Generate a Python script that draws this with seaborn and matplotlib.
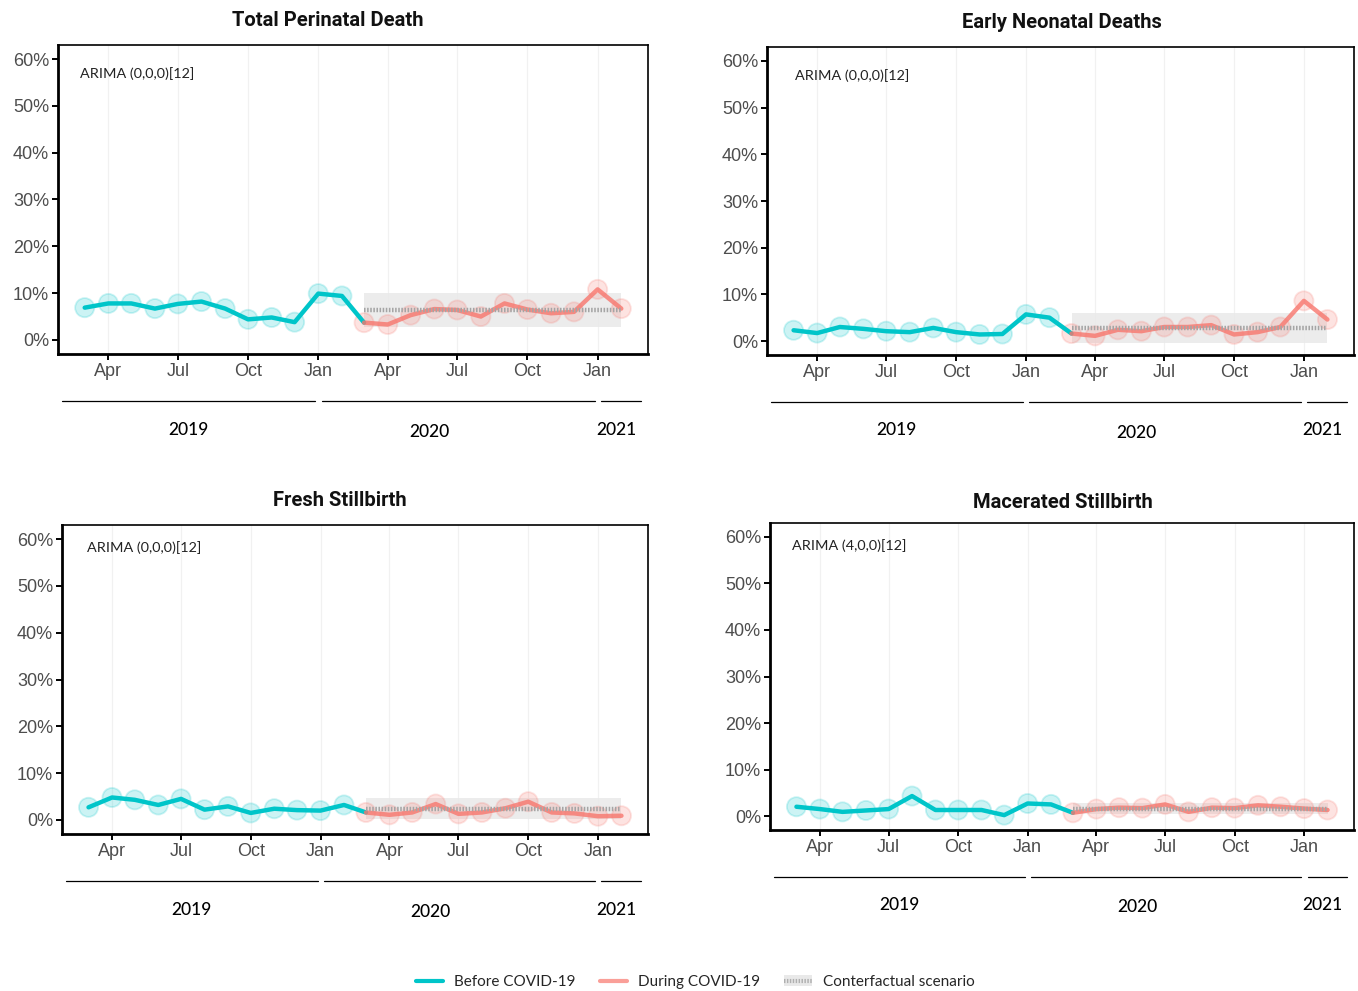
import numpy as np
import pandas as pd
import matplotlib
matplotlib.use("Agg")
import matplotlib.pyplot as plt
import matplotlib.dates as mdates
import matplotlib.transforms as mtransforms
from matplotlib.lines import Line2D
from matplotlib.patches import Patch
from matplotlib.legend_handler import HandlerTuple
import seaborn as sns

# ---------------- data ----------------
months = pd.date_range("2019-03-01", "2021-02-01", freq="MS")
n_before = 12  # Mar 2019 - Feb 2020 before COVID-19, Mar 2020 onward during

panel_titles = ["Total Perinatal Death", "Early Neonatal Deaths",
                "Fresh Stillbirth", "Macerated Stillbirth"]
arima_labels = ["ARIMA (0,0,0)[12]", "ARIMA (0,0,0)[12]",
                "ARIMA (0,0,0)[12]", "ARIMA (4,0,0)[12]"]

total_perinatal = [6.9, 7.8, 7.8, 6.7, 7.7, 8.2, 6.7, 4.4, 4.8, 3.8, 9.9, 9.4,
                   3.7, 3.3, 5.3, 6.6, 6.4, 5.0, 7.8, 6.5, 5.7, 6.0, 10.8, 6.7]
early_neonatal = [2.3, 1.7, 3.0, 2.6, 2.1, 1.9, 2.8, 1.9, 1.4, 1.5, 5.7, 5.0,
                  1.6, 1.1, 2.4, 2.1, 3.0, 3.0, 3.4, 1.4, 1.9, 3.0, 8.6, 4.6]
fresh_stillbirth = [2.7, 4.8, 4.3, 3.2, 4.5, 2.2, 2.9, 1.5, 2.4, 2.1, 2.0, 3.2,
                    1.6, 1.1, 1.6, 3.4, 1.3, 1.6, 2.5, 3.9, 1.6, 1.4, 0.8, 0.9]
macerated_stillbirth = [2.0, 1.5, 0.9, 1.2, 1.5, 4.3, 1.3, 1.3, 1.3, 0.2, 2.7, 2.5,
                        0.7, 1.5, 1.8, 1.7, 2.5, 0.9, 1.8, 1.7, 2.3, 2.0, 1.6, 1.3]
series = [total_perinatal, early_neonatal, fresh_stillbirth, macerated_stillbirth]

# counterfactual forecast (mean and interval) over the COVID-19 period
cf_mean = [6.5, 2.8, 2.3, 1.6]
cf_low = [2.8, -0.4, 0.2, 0.4]
cf_high = [10.1, 5.9, 4.6, 2.9]

y_ticks = [0, 10, 20, 30, 40, 50, 60]
year_labels = ["2019", "2020", "2021"]
year_label_dates = ["2019-07-15", "2020-05-25", "2021-01-25"]
legend_labels = ["Before COVID-19", "During COVID-19", "Conterfactual scenario"]

# ---------------- style ----------------
CYAN = "#00C5C9"
RED = "#F8766D"
sns.set_theme(style="white")
plt.rcParams["font.family"] = ["Liberation Sans", "DejaVu Sans"]

fig = plt.figure(figsize=(13.58, 9.91), dpi=100)
W, H = 1358, 991

# axes boxes in pixels: left, top, right, bottom
boxes = [(58, 45, 648, 354), (767, 47, 1354, 355),
         (62, 525, 648, 834), (770, 523, 1354, 830)]
title_pos = [(328, 20), (1062, 22), (340, 500), (1063, 502)]
arima_pos = [(0.037, 0.909), (0.048, 0.909), (0.043, 0.926), (0.038, 0.928)]

x0 = months[0] - pd.Timedelta(days=35)
x1 = months[-1] + pd.Timedelta(days=35)

for i in range(4):
    l, t, r, b = boxes[i]
    ax = fig.add_axes([l / W, 1 - b / H, (r - l) / W, (b - t) / H])
    vals = series[i]

    df = pd.DataFrame({"date": months, "value": vals,
                       "period": ["Before"] * n_before + ["During"] * (len(months) - n_before)})
    before_line = df.iloc[:n_before + 1]
    during_line = df.iloc[n_before:]
    during = df.iloc[n_before:]

    # counterfactual band and central forecast
    ax.fill_between(during["date"], cf_low[i], cf_high[i], color="#E9E9E9",
                    alpha=0.85, linewidth=0, zorder=1)

    # monthly observations
    sns.scatterplot(data=df, x="date", y="value", hue="period",
                    palette={"Before": CYAN, "During": RED}, s=190, alpha=0.2,
                    edgecolor=None, linewidth=1.3, legend=False, ax=ax, zorder=2)
    for coll in ax.collections[1:]:
        fc = coll.get_facecolors()
        coll.set_edgecolors(fc)

    sns.lineplot(data=before_line, x="date", y="value", color=CYAN,
                 linewidth=3.2, ax=ax, zorder=3)
    sns.lineplot(data=during_line, x="date", y="value", color=RED,
                 linewidth=3.2, alpha=0.8, ax=ax, zorder=3)

    ax.plot(during["date"], [cf_mean[i]] * len(during), color="#A5A5A5",
            linewidth=3.2, linestyle=(0, (0.35, 0.35)), zorder=4)

    ax.set_xlim(x0, x1)
    ax.set_ylim(-3, 63)
    ax.set_yticks(y_ticks)
    ax.set_yticklabels([f"{v}%" for v in y_ticks])
    ax.xaxis.set_major_locator(mdates.MonthLocator(bymonth=[1, 4, 7, 10]))
    ax.xaxis.set_major_formatter(mdates.DateFormatter("%b"))
    ax.set_xlabel("")
    ax.set_ylabel("")
    ax.grid(axis="x", color="#F1F1F1", linewidth=0.9)
    ax.grid(axis="y", visible=False)
    ax.set_axisbelow(True)

    for side in ["left", "bottom"]:
        ax.spines[side].set_linewidth(2.0)
        ax.spines[side].set_color("black")
    for side in ["top", "right"]:
        ax.spines[side].set_linewidth(1.2)
        ax.spines[side].set_color("black")
    ax.tick_params(axis="both", which="major", direction="out", length=4,
                   width=1.4, color="black", labelsize=13, labelcolor="#4D4D4D",
                   left=True, bottom=True, pad=2.5)

    ax.text(arima_pos[i][0], arima_pos[i][1], arima_labels[i], transform=ax.transAxes,
            ha="left", va="center", fontfamily="Lato", fontsize=10.4, color="#222222")

    # year brackets below the month axis
    trans = mtransforms.blended_transform_factory(ax.transData, ax.transAxes)
    xa0, xa1 = mdates.date2num(x0), mdates.date2num(x1)
    for k, yr in enumerate(year_labels):
        s = max(mdates.date2num(pd.Timestamp(f"{yr}-01-01")), xa0)
        e = min(mdates.date2num(pd.Timestamp(f"{int(yr) + 1}-01-01")), xa1)
        fs = (s - xa0) / (xa1 - xa0) + 0.006
        fe = (e - xa0) / (xa1 - xa0) - (0.012 if e == xa1 else 0.005)
        ax.plot([fs, fe], [-0.152, -0.152], transform=ax.transAxes, color="black",
                linewidth=0.9, clip_on=False)
        ax.text(mdates.date2num(pd.Timestamp(year_label_dates[k])),
                -0.245 - (0.007 if k == 1 else 0.0), yr, transform=trans,
                ha="center", va="center", fontfamily="Lato", fontsize=12.5,
                fontweight="medium", color="#000000")

    fig.text(title_pos[i][0] / W, 1 - title_pos[i][1] / H, panel_titles[i],
             ha="center", va="center", fontfamily="Roboto", fontweight="bold",
             fontsize=14.5, color="#111111")

handles = [Line2D([], [], color=CYAN, linewidth=3),
           Line2D([], [], color=RED, alpha=0.7, linewidth=3),
           (Patch(facecolor="#E9E9E9", edgecolor="none"),
            Line2D([], [], color="#B0B0B0", linewidth=3, linestyle=(0, (0.35, 0.35))))]
leg = fig.legend(handles, legend_labels, loc="center", ncol=3, frameon=False,
                 bbox_to_anchor=(695 / W, 1 - 982 / H), handlelength=1.8,
                 handletextpad=0.7, columnspacing=1.6,
                 handler_map={tuple: HandlerTuple(ndivide=1)},
                 prop={"family": "Lato", "size": 11})

fig.savefig("out.png", dpi=100)
